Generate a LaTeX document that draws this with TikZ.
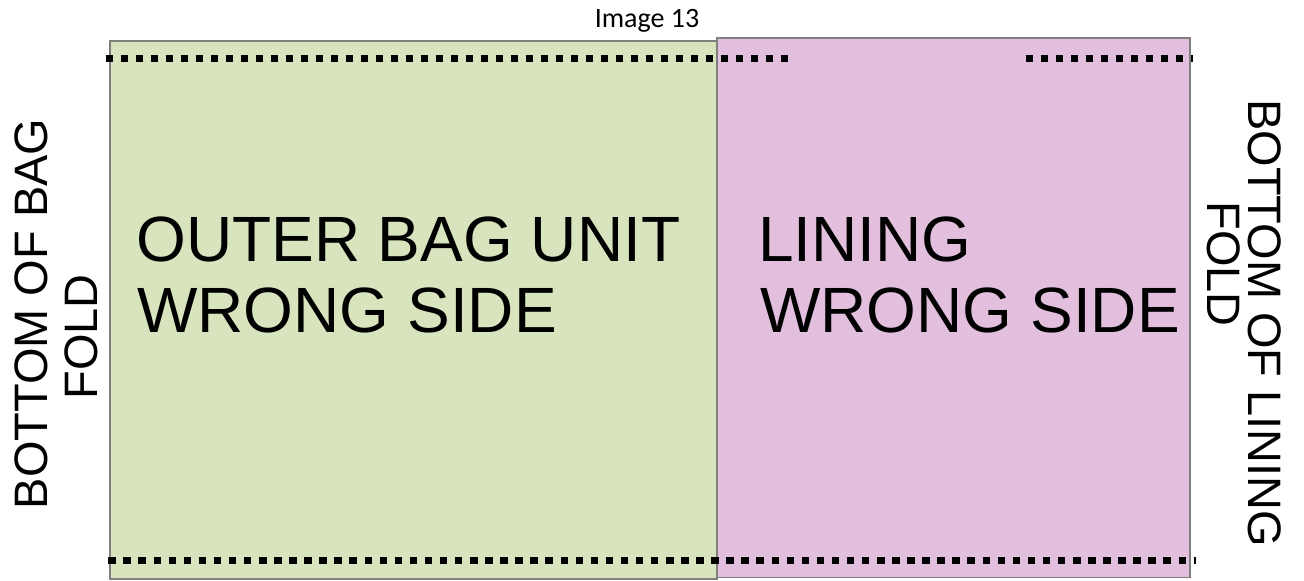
\documentclass[tikz,border=0pt]{standalone}
\usepackage{fontspec}
\setmainfont{Liberation Sans}
\newfontfamily\calfont{Carlito}
\definecolor{bagGreen}{HTML}{D7E4BD}
\definecolor{liningPink}{HTML}{E1BFDD}
\definecolor{edgeGray}{HTML}{7F7F7F}
\begin{document}
\begin{tikzpicture}[x=0.75pt,y=-0.75pt,
  panel/.style={draw=edgeGray,line width=1pt},
  foldline/.style={line width=5.25pt,line cap=butt,dash pattern=on 5.625pt off 5.625pt},
  foldlineb/.style={line width=5.25pt,line cap=butt,dash pattern=on 5.625pt off 5.68pt},
  bigtxt/.style={inner sep=0pt,anchor=base west,font=\fontsize{48}{56}\selectfont},
  sidetxt/.style={inner sep=0pt,anchor=base,font=\fontsize{35.2}{42}\selectfont},
]
\useasboundingbox (0,0) rectangle (1304,581);
% panels
\filldraw[panel,fill=bagGreen] (110,41) rectangle (717,579);
\filldraw[panel,fill=liningPink] (717,38) rectangle (1190,577.5);
% fold lines
\coordinate (t1a) at (105.7,59);
\coordinate (t1b) at (789.5,59);
\coordinate (t2a) at (1025.7,59);
\coordinate (t2b) at (1193,59);
\coordinate (b1a) at (108.3,560.5);
\coordinate (b1b) at (1196,560.5);
\draw[foldline] (t1a) -- (t1b);
\draw[foldline] (t2a) -- (t2b);
\draw[foldlineb] (b1a) -- (b1b);
% title
\node[inner sep=0pt,anchor=base,font=\calfont\fontsize{21}{25}\selectfont] (title) at (647,28) {Image 13};
% main texts
\node[bigtxt] (outer1) at (136,262) {OUTER BAG UNIT};
\node[bigtxt] (outer2) at (137,332) {WRONG SIDE};
\node[bigtxt] (lin1) at (758,262) {LINING};
\node[bigtxt] (lin2) at (760,332) {WRONG SIDE};
% side texts
\node[sidetxt,rotate=90] (left1) at (47,314) {BOTTOM OF BAG};
\node[sidetxt,rotate=90] (left2) at (97,337) {FOLD};
\node[sidetxt,rotate=-90] (right1) at (1248,323) {BOTTOM OF LINING};
\node[sidetxt,rotate=-90] (right2) at (1207,264) {FOLD};
\end{tikzpicture}
\end{document}
